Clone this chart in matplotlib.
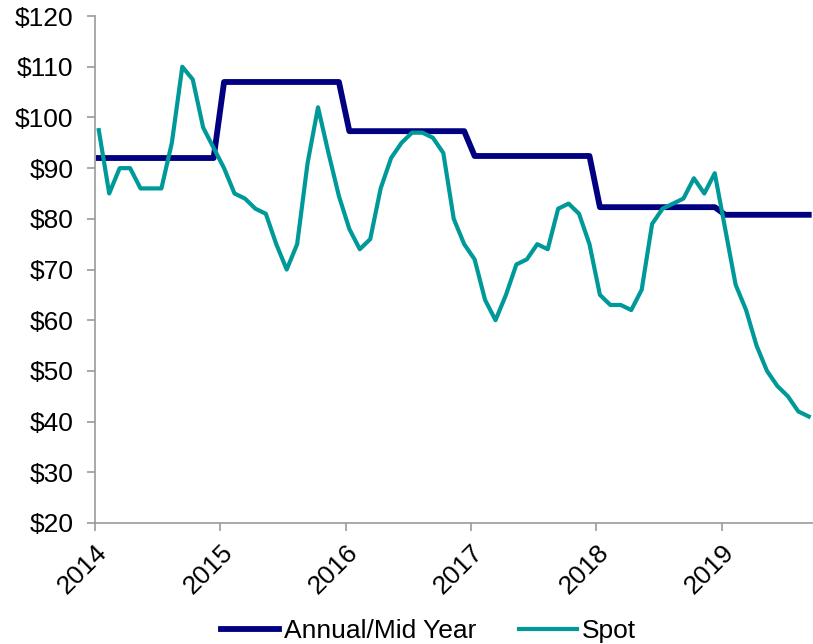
import numpy as np
import matplotlib.pyplot as plt
from matplotlib.ticker import FuncFormatter

plt.rcParams['font.family'] = ['Liberation Sans', 'DejaVu Sans']

# monthly prices, Jan 2014 onwards
spot = [97.5, 85, 90, 90, 86, 86, 86, 95, 110, 107.5, 98, 94,
        90, 85, 84, 82, 81, 75, 70, 75, 91, 102, 93, 84.5,
        78, 74, 76, 86, 92, 95, 97, 97, 96, 93, 80, 75,
        72, 64, 60, 65, 71, 72, 75, 74, 82, 83, 81, 75,
        65, 63, 63, 62, 66, 79, 82, 83, 84, 88, 85, 89,
        78, 67, 62, 55, 50, 47, 45, 42, 41]
annual_levels = [92, 107, 97.3, 92.4, 82.3, 80.8]
annual = [annual_levels[i // 12] for i in range(len(spot))]

years = [2014, 2015, 2016, 2017, 2018, 2019]
x = 2014 + (np.arange(len(spot)) + 0.35) / 12

fig = plt.figure(figsize=(8.13, 6.44), dpi=100)
ax = fig.add_axes([0.117, 0.188, 0.883, 0.787])

ax.plot(x, annual, color='#000080', lw=4.2, label='Annual/Mid Year')
ax.plot(x, spot, color='#009999', lw=3.0, label='Spot')

ax.set_xlim(2014, 2019.73)
ax.set_ylim(20, 120)
ax.set_yticks(range(20, 121, 10))
ax.yaxis.set_major_formatter(FuncFormatter(lambda v, p: f'${v:.0f}'))
ax.set_xticks(years)
ax.set_xticklabels([str(y) for y in years], rotation=45, ha='right',
                   rotation_mode='anchor')

for side in ['top', 'right']:
    ax.spines[side].set_visible(False)
for side in ['left', 'bottom']:
    ax.spines[side].set_color('#999999')
    ax.spines[side].set_linewidth(1.2)
ax.tick_params(axis='both', labelsize=19, color='#999999', length=5.5,
               width=1.2, direction='out')
ax.tick_params(axis='y', pad=10)
ax.tick_params(axis='x', pad=7)

fig.legend(loc='lower center', bbox_to_anchor=(0.527, -0.036), ncol=2,
           frameon=False, fontsize=19, handlelength=2.2, handletextpad=0.2,
           columnspacing=1.6)

fig.savefig('out.png', dpi=100)
